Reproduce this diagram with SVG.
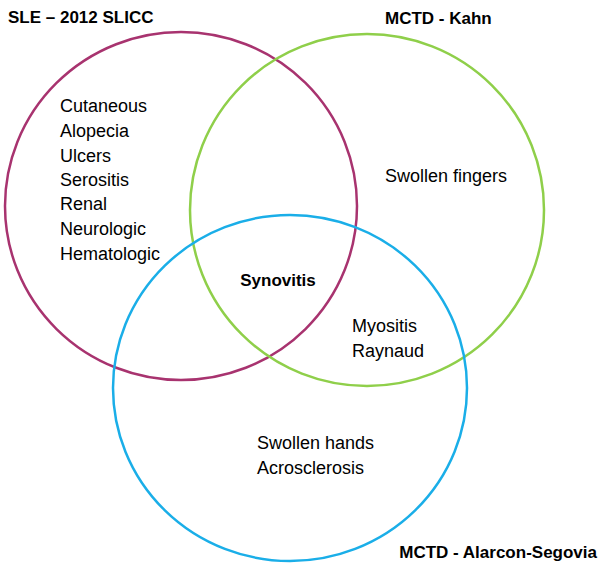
<svg xmlns="http://www.w3.org/2000/svg" width="600" height="569" viewBox="0 0 600 569">
<style>
.c{fill:none;stroke-width:2.5}
text{font-family:"Liberation Sans",Arial,sans-serif;font-size:18px;fill:#000}
.b{font-weight:bold;font-size:17px}
</style>
<rect width="600" height="569" fill="#fff"/>
<g id="connectors"></g>
<g id="sle"><ellipse class="c" cx="181" cy="206" rx="176" ry="174" stroke="#a8336f"/>
<text class="b" x="8" y="23">SLE – 2012 SLICC</text>
<text x="60" y="112">Cutaneous</text><text x="60" y="137">Alopecia</text><text x="60" y="162">Ulcers</text><text x="60" y="186">Serositis</text><text x="60" y="210">Renal</text><text x="60" y="235">Neurologic</text><text x="60" y="260">Hematologic</text></g>
<g id="kahn"><ellipse class="c" cx="367" cy="210" rx="177" ry="176" stroke="#8fcf4a"/>
<text class="b" x="385" y="24">MCTD - Kahn</text>
<text x="385" y="182">Swollen fingers</text></g>
<g id="alarcon"><ellipse class="c" cx="290" cy="388" rx="177" ry="173" stroke="#1aaee8"/>
<text class="b" x="597" y="558" text-anchor="end">MCTD - Alarcon-Segovia</text>
<text x="257" y="449">Swollen hands</text><text x="257" y="474">Acrosclerosis</text></g>
<g id="overlap"><text class="b" x="278" y="286" text-anchor="middle">Synovitis</text>
<text x="352" y="332">Myositis</text><text x="352" y="357">Raynaud</text></g>
</svg>
